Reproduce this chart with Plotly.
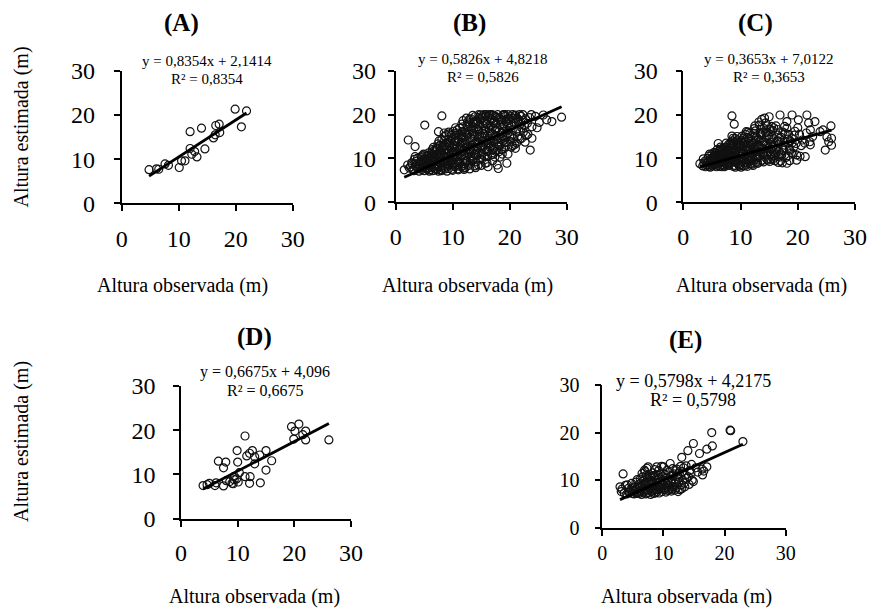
import plotly.graph_objects as go

W, H = 869, 608
FONT = "Liberation Serif"

# ---------------- data (observed height, estimated height) ----------------
A_pts = [(4.8,7.6),(6.1,7.8),(6.5,7.7),(7.6,8.9),(8.2,8.6),(10.1,8.1),(10.5,9.6),(11.1,9.6),
         (12.0,12.4),(12.0,16.2),(12.3,11.1),(12.8,11.7),(13.2,10.5),(14.0,17.0),(14.6,12.3),
         (16.1,14.8),(16.4,15.5),(16.5,17.6),(17.1,17.9),(17.2,16.0),(19.9,21.3),(21.0,17.3),(21.9,20.9)]

B_pts = [(1.5,7.4),(2.1,8.5),(2.2,14.2),(2.4,7.8),(2.8,9.0),(2.6,8.1),(3.0,7.5),(2.9,8.7),
 (3.4,12.7),(3.4,10.4),(3.2,7.2),(3.5,8.3),(3.7,9.4),(3.9,7.6),(3.6,8.9),(3.8,10.0),(3.3,9.8),
 (4.1,7.1),(4.2,8.0),(4.4,9.1),(4.5,10.2),(4.6,7.5),(4.7,8.6),(4.8,9.7),(4.9,11.0),(4.3,7.8),(4.6,10.6),
 (5.1,17.6),(5.4,10.4),(5.0,7.2),(5.2,8.2),(5.3,9.3),(5.5,7.6),(5.6,8.8),(5.7,10.0),(5.8,11.3),(5.9,7.1),(5.5,9.8),(5.9,9.0),
 (6.0,7.4),(6.1,8.5),(6.2,9.6),(6.3,10.8),(6.4,12.0),(6.5,7.2),(6.6,8.1),(6.7,9.2),(6.8,10.3),(6.9,11.5),(6.3,7.9),(6.6,12.5),(6.9,7.6),(6.2,11.2),
 (7.0,8.4),(7.1,9.9),(7.2,11.0),(7.3,12.4),(7.4,13.3),(7.5,16.1),(7.5,7.1),(7.6,8.0),(7.7,9.1),(7.8,10.5),(7.9,11.8),(7.2,7.5),(7.4,8.7),(7.8,13.0),(7.9,7.4),(7.6,10.1),
 (8.1,19.7),(8.5,15.8),(8.0,7.2),(8.1,8.3),(8.2,9.5),(8.3,10.6),(8.4,11.9),(8.5,13.0),(8.6,14.2),(8.7,7.6),(8.8,8.8),(8.9,10.1),(8.3,12.5),(8.6,9.4),(8.9,12.0),(8.2,7.8),(8.7,11.2),
 (9.0,7.1),(9.1,8.2),(9.2,9.3),(9.3,10.5),(9.4,11.7),(9.5,12.9),(9.6,14.1),(9.7,15.2),(9.8,7.5),(9.9,8.7),(9.2,13.6),(9.5,10.0),(9.8,11.2),(9.3,7.7),(9.6,9.1),(9.9,12.6),(9.4,15.6),
 (10.0,7.3),(10.1,8.5),(10.2,9.7),(10.3,10.9),(10.4,12.1),(10.5,13.4),(10.6,14.6),(10.7,15.8),(10.8,16.5),(10.9,7.6),(10.1,11.5),(10.4,8.1),(10.6,10.3),(10.8,12.8),(10.3,14.0),(10.9,9.2),(10.5,17.0),
 (11.0,7.4),(11.1,8.6),(11.2,9.9),(11.3,11.1),(11.4,12.4),(11.5,13.6),(11.6,14.9),(11.7,16.1),(11.8,17.2),(11.8,18.6),(11.9,7.8),(11.2,15.5),(11.5,10.5),(11.7,8.2),(11.3,13.0),(11.9,11.8),(11.6,17.8),
 (12.0,7.5),(12.1,8.8),(12.2,10.1),(12.3,11.4),(12.4,12.7),(12.5,14.0),(12.6,15.3),(12.7,16.6),(12.8,17.9),(12.9,18.9),(12.2,7.9),(12.5,9.5),(12.8,11.0),(12.3,13.5),(12.6,17.2),(12.9,12.2),(12.4,19.2),
 (13.0,7.6),(13.1,8.9),(13.2,10.3),(13.3,11.6),(13.4,13.0),(13.5,14.3),(13.6,15.7),(13.7,17.0),(13.8,18.4),(13.9,19.5),(13.2,19.0),(13.5,9.6),(13.7,12.3),(13.3,16.4),(13.9,8.3),(13.6,18.0),(13.8,10.9),
 (14.0,7.9),(14.1,9.2),(14.2,10.6),(14.3,12.0),(14.4,13.4),(14.5,14.8),(14.6,16.2),(14.7,17.6),(14.8,19.0),(14.9,19.9),(14.5,8.5),(14.2,18.6),(14.7,11.3),(14.4,15.5),(14.9,12.7),(14.1,16.9),(14.6,20.0),
 (15.0,8.4),(15.1,9.8),(15.2,11.2),(15.3,12.6),(15.4,14.0),(15.5,15.4),(15.6,16.8),(15.7,18.2),(15.8,19.6),(15.9,20.0),(15.2,19.3),(15.6,10.5),(15.4,17.5),(15.8,13.3),(15.1,15.0),(15.7,8.9),(15.3,19.8),
 (16.0,9.0),(16.1,10.4),(16.2,8.1),(16.3,11.8),(16.4,13.2),(16.5,14.6),(16.6,16.0),(16.7,17.4),(16.8,18.8),(16.9,20.0),(16.3,19.5),(16.6,12.5),(16.1,15.3),(16.8,10.9),(16.4,19.9),(16.7,14.0),
 (17.0,9.5),(17.1,10.9),(17.2,12.3),(17.3,13.7),(17.4,15.1),(17.5,16.5),(17.6,17.9),(17.7,19.3),(17.8,8.5),(17.9,20.0),(17.3,18.6),(17.6,11.6),(17.1,19.8),(17.8,14.4),
 (18.0,7.7),(18.3,10.3),(18.1,11.5),(18.2,12.9),(18.4,14.3),(18.5,15.7),(18.6,17.1),(18.7,18.5),(18.8,19.8),(18.9,20.0),(18.5,13.4),(18.2,19.2),
 (19.5,8.9),(19.7,11.0),(19.0,12.2),(19.2,13.6),(19.4,15.0),(19.6,16.4),(19.8,17.8),(19.9,19.2),(19.1,20.0),(19.3,18.4),(19.7,20.0),
 (20.3,12.6),(21.0,12.3),(20.1,13.9),(20.4,15.3),(20.6,16.7),(20.8,18.1),(20.2,19.5),(20.5,20.0),(20.9,19.7),(20.7,14.5),
 (21.2,13.5),(21.4,15.0),(21.6,16.4),(21.8,17.8),(21.3,19.2),(21.7,20.0),(21.5,18.5),
 (22.1,14.6),(22.4,16.0),(22.6,17.5),(22.8,19.0),(22.3,20.0),(22.9,15.2),
 (23.2,15.5),(23.6,11.9),(23.9,14.6),(23.9,17.2),(23.5,19.3),(23.1,18.0),(23.8,20.0),
 (24.5,19.6),(25.2,18.2),(25.9,19.9),(26.5,18.8),(27.4,18.4),(29.1,19.4),(24.8,17.0),
 # dense core
 (4.2,8.6),(4.5,9.4),(4.8,8.1),(5.0,9.9),(5.3,7.8),(5.6,10.6),(5.8,8.4),(5.1,10.8),
 (6.1,10.0),(6.4,8.8),(6.7,11.8),(6.9,9.7),(7.1,12.2),(7.3,8.2),(7.5,10.8),(7.7,12.9),(7.9,9.6),(6.5,10.5),(7.0,7.8),(7.6,14.0),
 (8.0,10.9),(8.2,12.8),(8.4,9.0),(8.6,15.0),(8.8,13.5),(9.0,11.1),(9.2,8.6),(9.4,13.3),(9.6,10.8),(9.8,14.5),(8.1,14.3),(8.9,15.4),(9.1,12.2),(9.7,9.6),(9.3,16.0),
 (10.0,10.2),(10.2,13.0),(10.4,15.3),(10.6,9.0),(10.8,11.6),(11.0,14.3),(11.2,16.9),(11.4,8.1),(11.6,10.8),(11.8,13.4),(10.1,16.2),(10.7,12.4),(11.1,11.9),(11.5,15.2),(11.9,14.8),(10.9,10.4),
 (12.0,10.6),(12.2,13.2),(12.4,15.8),(12.6,18.3),(12.8,8.4),(13.0,12.0),(13.2,14.7),(13.4,17.4),(13.6,10.1),(13.8,15.1),(12.1,16.0),(12.7,12.6),(13.1,9.5),(13.5,19.8),(13.9,13.6),(12.3,9.2),
 (14.0,11.2),(14.2,14.0),(14.4,16.7),(14.6,19.3),(14.8,9.9),(15.0,13.0),(15.2,15.8),(15.4,18.6),(15.6,12.0),(15.8,16.4),(14.1,18.0),(14.7,15.0),(15.1,10.9),(15.5,20.0),(15.9,17.8),(14.3,12.6),
 (16.0,11.6),(16.2,14.1),(16.4,16.8),(16.6,19.0),(16.8,12.9),(17.0,15.6),(17.2,18.1),(17.4,10.3),(17.6,14.9),(17.8,17.0),(16.1,17.9),(16.7,15.5),(17.1,12.0),(17.5,19.6),(17.9,12.8),(16.5,20.0),
 (18.0,13.8),(18.2,16.3),(18.4,18.9),(18.6,12.1),(18.8,14.9),(19.0,17.4),(19.2,19.6),(19.4,13.0),(19.6,15.7),(19.8,18.6),(18.3,17.7),(18.9,16.2),(19.1,14.2),(19.5,19.0),(18.7,11.0),
 (20.0,15.0),(20.3,17.4),(20.6,19.2),(20.9,13.2),(21.2,16.2),(21.5,18.9),(21.8,14.4),(22.1,17.0),(22.4,18.6),(22.7,13.7),(20.5,12.9),(21.0,19.9),(22.0,19.6)]

C_pts = [(2.9,8.8),(3.4,8.3),(3.6,8.9),(3.8,9.4),(3.9,8.1),(3.5,9.9),
 (4.0,8.5),(4.2,9.1),(4.3,10.0),(4.5,8.2),(4.6,11.0),(4.8,9.5),(4.9,8.7),(4.4,10.5),(4.7,8.0),
 (5.0,11.0),(5.1,8.3),(5.2,9.2),(5.3,10.2),(5.4,11.4),(5.5,8.6),(5.6,9.7),(5.7,10.8),(5.8,8.1),(5.9,12.0),(5.5,10.5),(5.2,8.8),
 (6.1,13.4),(6.0,8.4),(6.1,9.4),(6.2,10.5),(6.3,11.6),(6.4,8.2),(6.5,9.0),(6.6,10.0),(6.7,11.1),(6.8,12.3),(6.9,8.6),(6.3,9.8),(6.7,8.1),(6.5,12.6),
 (7.0,8.3),(7.1,9.3),(7.2,10.4),(7.3,11.5),(7.4,12.6),(7.5,13.5),(7.6,8.7),(7.7,9.8),(7.8,10.9),(7.9,12.0),(7.2,8.1),(7.5,11.0),(7.8,8.4),(7.4,9.5),(7.9,13.2),
 (8.5,19.7),(8.9,17.8),(8.5,15.1),(8.0,8.5),(8.1,9.6),(8.2,10.7),(8.3,11.8),(8.4,12.9),(8.6,14.0),(8.7,8.2),(8.8,9.3),(8.9,10.4),(8.3,13.6),(8.6,11.5),(8.8,12.5),(8.2,8.9),(8.7,14.6),
 (9.0,8.4),(9.1,9.5),(9.2,10.7),(9.3,11.9),(9.4,13.0),(9.5,14.2),(9.6,8.7),(9.7,9.9),(9.8,11.1),(9.9,12.3),(9.2,13.8),(9.5,10.3),(9.8,8.3),(9.4,15.0),(9.9,13.4),(9.1,8.0),
 (10.0,8.6),(10.1,9.8),(10.2,11.0),(10.3,12.2),(10.4,13.4),(10.5,14.6),(10.6,8.3),(10.7,9.4),(10.8,10.6),(10.9,11.8),(10.3,15.1),(10.6,12.9),(10.9,14.0),(10.1,8.0),(10.5,10.1),(11.0,16.1),
 (11.0,8.5),(11.1,9.7),(11.2,10.9),(11.3,12.1),(11.4,13.3),(11.5,14.6),(11.6,15.7),(11.7,8.8),(11.8,10.1),(11.9,11.4),(11.3,16.0),(11.6,12.7),(11.9,13.9),(11.2,8.2),(11.5,9.3),
 (12.0,8.7),(12.1,9.9),(12.2,11.2),(12.3,12.5),(12.4,13.8),(12.5,15.1),(12.6,16.3),(12.7,9.1),(12.8,10.4),(12.9,11.7),(12.4,16.8),(12.7,14.2),(12.2,8.4),(12.9,13.0),(12.5,17.4),
 (13.0,8.9),(13.1,10.2),(13.2,11.5),(13.3,12.8),(13.4,14.1),(13.5,15.4),(13.6,16.7),(13.7,18.9),(13.8,9.6),(13.9,11.0),(13.3,17.6),(13.6,12.3),(13.9,13.7),(13.2,18.3),(13.8,15.9),
 (14.0,9.2),(14.1,10.5),(14.2,19.2),(14.3,11.9),(14.4,13.3),(14.5,14.7),(14.6,16.0),(14.7,17.4),(14.8,9.6),(14.9,12.4),(14.4,18.1),(14.6,10.9),(14.9,15.2),(15.0,19.5),
 (15.1,9.3),(15.2,10.8),(15.3,12.2),(15.4,13.6),(15.5,15.0),(15.6,16.4),(15.7,9.9),(15.8,11.5),(15.9,13.0),(15.4,17.3),(15.8,14.5),
 (16.2,17.4),(16.9,19.9),(16.0,9.5),(16.1,10.9),(16.3,12.4),(16.4,13.9),(16.5,15.3),(16.6,9.1),(16.7,11.6),(16.8,14.6),(16.5,16.6),
 (17.0,9.4),(17.2,10.8),(17.4,12.3),(17.5,11.9),(17.6,13.7),(17.8,15.6),(17.3,9.0),(17.7,17.3),(17.9,10.2),(17.1,14.8),
 (18.1,18.4),(18.1,16.9),(18.1,8.9),(18.3,10.6),(18.5,12.2),(18.7,14.0),(18.4,15.5),(18.9,11.3),(18.6,9.5),
 (19.0,19.9),(19.0,14.5),(19.3,12.6),(19.8,9.6),(19.8,10.8),(19.5,16.2),(19.2,11.1),(19.7,13.4),
 (20.1,18.8),(20.0,17.0),(20.3,15.5),(20.6,12.9),(20.4,10.5),(20.8,14.2),
 (21.6,19.9),(21.9,18.1),(21.3,10.4),(21.5,15.8),(21.2,13.5),
 (22.2,16.5),(22.1,13.8),(22.2,13.1),(23.0,18.4),(22.6,15.0),
 (23.9,16.1),(25.8,17.4),(25.1,14.9),(25.9,14.6),(25.4,13.8),(25.9,13.0),(24.8,11.9),(24.4,16.5),
 # dense core
 (4.1,8.9),(4.4,8.6),(4.7,9.8),(5.0,8.5),(5.3,9.6),(5.6,11.2),(5.9,9.3),(5.1,10.0),(5.8,10.4),
 (6.0,10.9),(6.2,8.8),(6.4,10.9),(6.6,9.4),(6.8,11.6),(7.0,10.0),(7.1,12.2),(7.3,8.8),(7.5,9.9),(7.7,12.5),(7.9,8.9),(6.4,12.0),(7.6,11.7),
 (8.0,11.3),(8.2,13.2),(8.4,9.5),(8.6,10.6),(8.8,13.1),(9.0,11.4),(9.2,9.1),(9.4,12.4),(9.6,13.6),(9.8,10.0),(8.1,12.4),(9.1,14.5),(9.7,12.9),(9.3,10.2),
 (10.0,12.7),(10.2,9.3),(10.4,11.4),(10.6,13.8),(10.8,9.0),(11.0,12.6),(11.2,14.8),(11.4,9.8),(11.6,11.9),(11.8,13.2),(10.1,14.0),(10.9,15.5),(11.5,10.6),(11.1,8.9),
 (12.0,10.9),(12.2,13.4),(12.4,9.6),(12.6,12.0),(12.8,14.9),(13.0,10.6),(13.2,13.0),(13.4,15.8),(13.6,9.4),(13.8,12.2),(12.3,15.7),(12.9,8.9),(13.1,14.4),(13.5,11.3),
 (14.0,11.2),(14.2,13.8),(14.4,15.9),(14.6,9.8),(14.8,12.9),(15.0,14.4),(15.2,16.6),(15.4,10.3),(15.6,12.6),(15.8,17.0),(14.1,16.8),(14.7,11.4),(15.3,9.8),(15.9,10.6),
 (16.2,12.0),(16.6,14.0),(17.0,11.1),(17.4,16.0),(17.8,13.0),(16.8,10.3),(18.2,14.4),(18.6,11.9),(19.0,13.5),(19.4,15.3)]

D_pts = [(3.9,7.5),(4.6,7.7),(5.0,8.0),(6.0,7.5),(6.2,8.1),(6.6,13.0),(7.9,12.8),(7.5,11.5),(7.5,7.4),
 (8.0,8.6),(8.6,8.4),(9.0,8.0),(9.4,8.8),(9.2,7.9),(9.4,9.6),(9.8,9.0),(9.9,15.4),(10.0,12.8),(10.3,10.4),
 (10.1,8.3),(11.3,18.7),(11.6,14.2),(12.1,14.8),(12.6,15.4),(12.2,9.5),(12.1,8.0),(11.3,9.5),(13.0,12.4),
 (13.0,14.0),(13.9,14.4),(14.0,8.1),(15.0,15.4),(15.0,11.0),(16.0,13.1),(19.5,20.8),(20.8,21.4),(19.9,18.0),
 (20.1,19.8),(22.0,19.8),(22.0,17.8),(21.5,19.0),(26.1,17.8)]

E_pts = [(2.9,8.6),(3.1,7.6),(3.4,11.3),(3.2,8.1),(3.6,7.3),(3.8,8.9),(4.0,7.1),(4.3,8.3),(4.1,9.0),(4.5,7.5),(4.8,9.3),(4.6,8.0),(4.9,7.2),
 (5.1,7.8),(5.3,8.6),(5.5,9.6),(5.2,7.1),(5.7,10.1),(5.8,7.4),(5.6,8.2),(5.9,9.0),(5.4,7.6),
 (6.0,7.2),(6.2,10.2),(6.1,8.5),(6.3,9.4),(6.4,7.0),(6.5,11.4),(6.6,8.0),(6.7,9.9),(6.8,7.5),(6.9,12.1),(6.3,7.8),(6.6,10.7),(7.0,11.8),
 (7.0,8.8),(7.1,7.1),(7.2,9.6),(7.3,12.5),(7.4,10.5),(7.5,12.8),(7.5,7.4),(7.6,8.3),(7.7,11.2),(7.8,9.1),(7.9,7.0),(7.4,8.0),(7.8,10.0),(7.2,11.0),
 (8.0,7.6),(8.1,9.8),(8.2,8.5),(8.3,11.5),(8.4,7.2),(8.5,10.6),(8.6,12.2),(8.7,8.1),(8.8,9.3),(8.9,12.8),(8.3,7.9),(8.6,11.0),(8.9,7.5),
 (9.0,8.8),(9.1,10.2),(9.2,12.0),(9.3,7.3),(9.4,9.6),(9.5,11.3),(9.6,8.2),(9.7,12.9),(9.8,7.6),(9.9,10.7),(9.3,8.6),(9.6,9.1),
 (10.0,12.8),(10.1,8.3),(10.2,9.9),(10.3,11.2),(10.4,7.5),(10.5,10.5),(10.6,12.1),(10.7,8.9),(10.8,7.8),(10.9,11.6),(10.4,9.3),(10.7,10.0),
 (11.1,13.5),(11.0,8.1),(11.2,9.6),(11.3,7.7),(11.4,10.9),(11.5,12.4),(11.6,8.6),(11.7,11.3),(11.8,9.2),(11.9,7.9),(11.4,10.2),
 (12.0,12.0),(12.2,12.3),(12.1,8.4),(12.3,10.8),(12.4,7.6),(12.5,9.5),(12.6,11.4),(12.7,8.0),(12.8,12.9),(12.9,9.0),(12.4,10.2),
 (13.0,14.8),(13.5,8.6),(13.1,11.8),(13.2,10.0),(13.3,12.6),(13.4,9.4),(13.6,11.1),(13.8,10.4),(13.0,8.2),(13.7,13.0),
 (14.0,16.2),(14.1,10.7),(14.3,12.0),(14.5,11.5),(14.2,9.1),(14.7,10.0),(14.9,9.7),(14.6,13.3),
 (14.9,17.7),(15.3,12.6),(15.6,11.7),(15.9,15.6),(16.3,12.3),(16.4,11.1),(16.6,11.9),(17.1,16.5),(17.1,12.8),
 (18.0,17.2),(17.9,20.0),(20.9,20.5),(21.0,20.4),(23.0,18.1),
 # dense core
 (4.4,7.4),(5.0,8.4),(5.6,7.2),(6.2,7.6),(6.5,8.6),(6.9,9.2),(7.1,8.0),(7.3,7.3),(7.6,9.6),(8.0,8.6),(8.4,9.3),
 (8.7,7.3),(9.0,8.0),(9.4,8.4),(9.8,9.3),(10.2,8.0),(10.6,8.4),(11.0,9.0),(11.5,8.1),(12.0,9.6),(8.2,10.9),
 (9.2,11.0),(10.0,11.3),(7.9,10.6)]

panel_labels = ["(A)", "(B)", "(C)", "(D)", "(E)"]
slopes = [0.8354, 0.5826, 0.3653, 0.6675, 0.5798]
intercepts = [2.1414, 4.8218, 7.0122, 4.096, 4.2175]
r2_text = ["0,8354", "0,5826", "0,3653", "0,6675", "0,5798"]
eq_text = ["y = 0,8354x + 2,1414", "y = 0,5826x + 4,8218", "y = 0,3653x + 7,0122",
           "y = 0,6675x + 4,096", "y = 0,5798x + 4,2175"]
tick_vals = [0, 10, 20, 30]
x_title = "Altura observada (m)"
y_title = "Altura estimada (m)"

# ---------------- layout geometry (pixels) ----------------
boxes = [(121.7, 292.7, 70.7, 203.3),
         (395.7, 566.7, 70.7, 202.3),
         (683.3, 855.0, 70.7, 202.3),
         (181.0, 351.0, 386.0, 518.7),
         (602.3, 785.7, 385.0, 527.7)]
tick_font = [24, 24, 24, 24, 20]
x_standoff = [7, 6, 6, 6, 0]
y_standoff = [14, 7, 13, 13, 11]
title_pos = [(181, 23), (469, 23), (755, 23), (254, 337), (685.5, 340)]
eq_pos = [(207, 61, 79), (482.5, 59, 77), (768.5, 59, 77), (265, 372, 390), (693, 381, 400)]
eq_font = [15, 15, 15, 16, 18]
xt_pos = [(182.5, 285), (467.6, 285), (761, 285), (254, 596), (686, 596)]
yt_pos = [(21, 127.5), (21, 442)]

def fx(px):
    return px / W

def fy(py):
    return 1 - py / H

fig = go.Figure()
all_pts = [A_pts, B_pts, C_pts, D_pts, E_pts]
annotations = []
for i, pts in enumerate(all_pts):
    n = i + 1
    xs = [p[0] for p in pts]
    ys = [p[1] for p in pts]
    xa = "x" if n == 1 else f"x{n}"
    ya = "y" if n == 1 else f"y{n}"
    fig.add_trace(go.Scatter(x=xs, y=ys, mode="markers", xaxis=xa, yaxis=ya,
                             marker=dict(symbol="circle-open", size=8, color="#111",
                                         line=dict(width=1.2)),
                             showlegend=False, hoverinfo="skip"))
    x0, x1 = min(xs), max(xs)
    fig.add_trace(go.Scatter(x=[x0, x1], y=[slopes[i] * x0 + intercepts[i], slopes[i] * x1 + intercepts[i]],
                             mode="lines", xaxis=xa, yaxis=ya,
                             line=dict(color="black", width=2.8), showlegend=False, hoverinfo="skip"))
    l, r, t, b = boxes[i]
    common = dict(range=[0, 30], tickvals=tick_vals, showline=True, linecolor="black", linewidth=1.6,
                  ticks="outside", ticklen=6, tickwidth=1.6, tickcolor="black", showgrid=False,
                  zeroline=False, automargin=False,
                  tickfont=dict(family=FONT, size=tick_font[i], color="black"))
    fig.update_layout(**{
        ("xaxis" if n == 1 else f"xaxis{n}"): dict(domain=[fx(l), fx(r)], anchor=ya,
                                                   ticklabelstandoff=x_standoff[i], **common),
        ("yaxis" if n == 1 else f"yaxis{n}"): dict(domain=[fy(b), fy(t)], anchor=xa,
                                                   ticklabelstandoff=y_standoff[i], **common),
    })
    tx, ty = title_pos[i]
    annotations.append(dict(x=fx(tx), y=fy(ty), xref="paper", yref="paper", text="<b>" + panel_labels[i] + "</b>",
                            showarrow=False, xanchor="center", yanchor="middle",
                            font=dict(family=FONT, size=25, color="black")))
    ex, ey1, ey2 = eq_pos[i]
    annotations.append(dict(x=fx(ex), y=fy(ey1), xref="paper", yref="paper", text=eq_text[i],
                            showarrow=False, xanchor="center", yanchor="middle",
                            font=dict(family=FONT, size=eq_font[i], color="black")))
    annotations.append(dict(x=fx(ex), y=fy(ey2), xref="paper", yref="paper", text="R² = " + r2_text[i],
                            showarrow=False, xanchor="center", yanchor="middle",
                            font=dict(family=FONT, size=eq_font[i], color="black")))
    xx, xy = xt_pos[i]
    annotations.append(dict(x=fx(xx), y=fy(xy), xref="paper", yref="paper", text=x_title,
                            showarrow=False, xanchor="center", yanchor="middle",
                            font=dict(family=FONT, size=20, color="black")))

for (yx, yy) in yt_pos:
    annotations.append(dict(x=fx(yx), y=fy(yy), xref="paper", yref="paper", text=y_title, textangle=-90,
                            showarrow=False, xanchor="center", yanchor="middle",
                            font=dict(family=FONT, size=20, color="black")))

fig.update_layout(width=W, height=H, margin=dict(l=0, r=0, t=0, b=0),
                  paper_bgcolor="white", plot_bgcolor="white", annotations=annotations)
# remove the browser's default 8px body margin so the figure fills the window exactly
fig.write_html("out.html", config={"displayModeBar": False},
               post_script="document.body.style.margin='0';")
